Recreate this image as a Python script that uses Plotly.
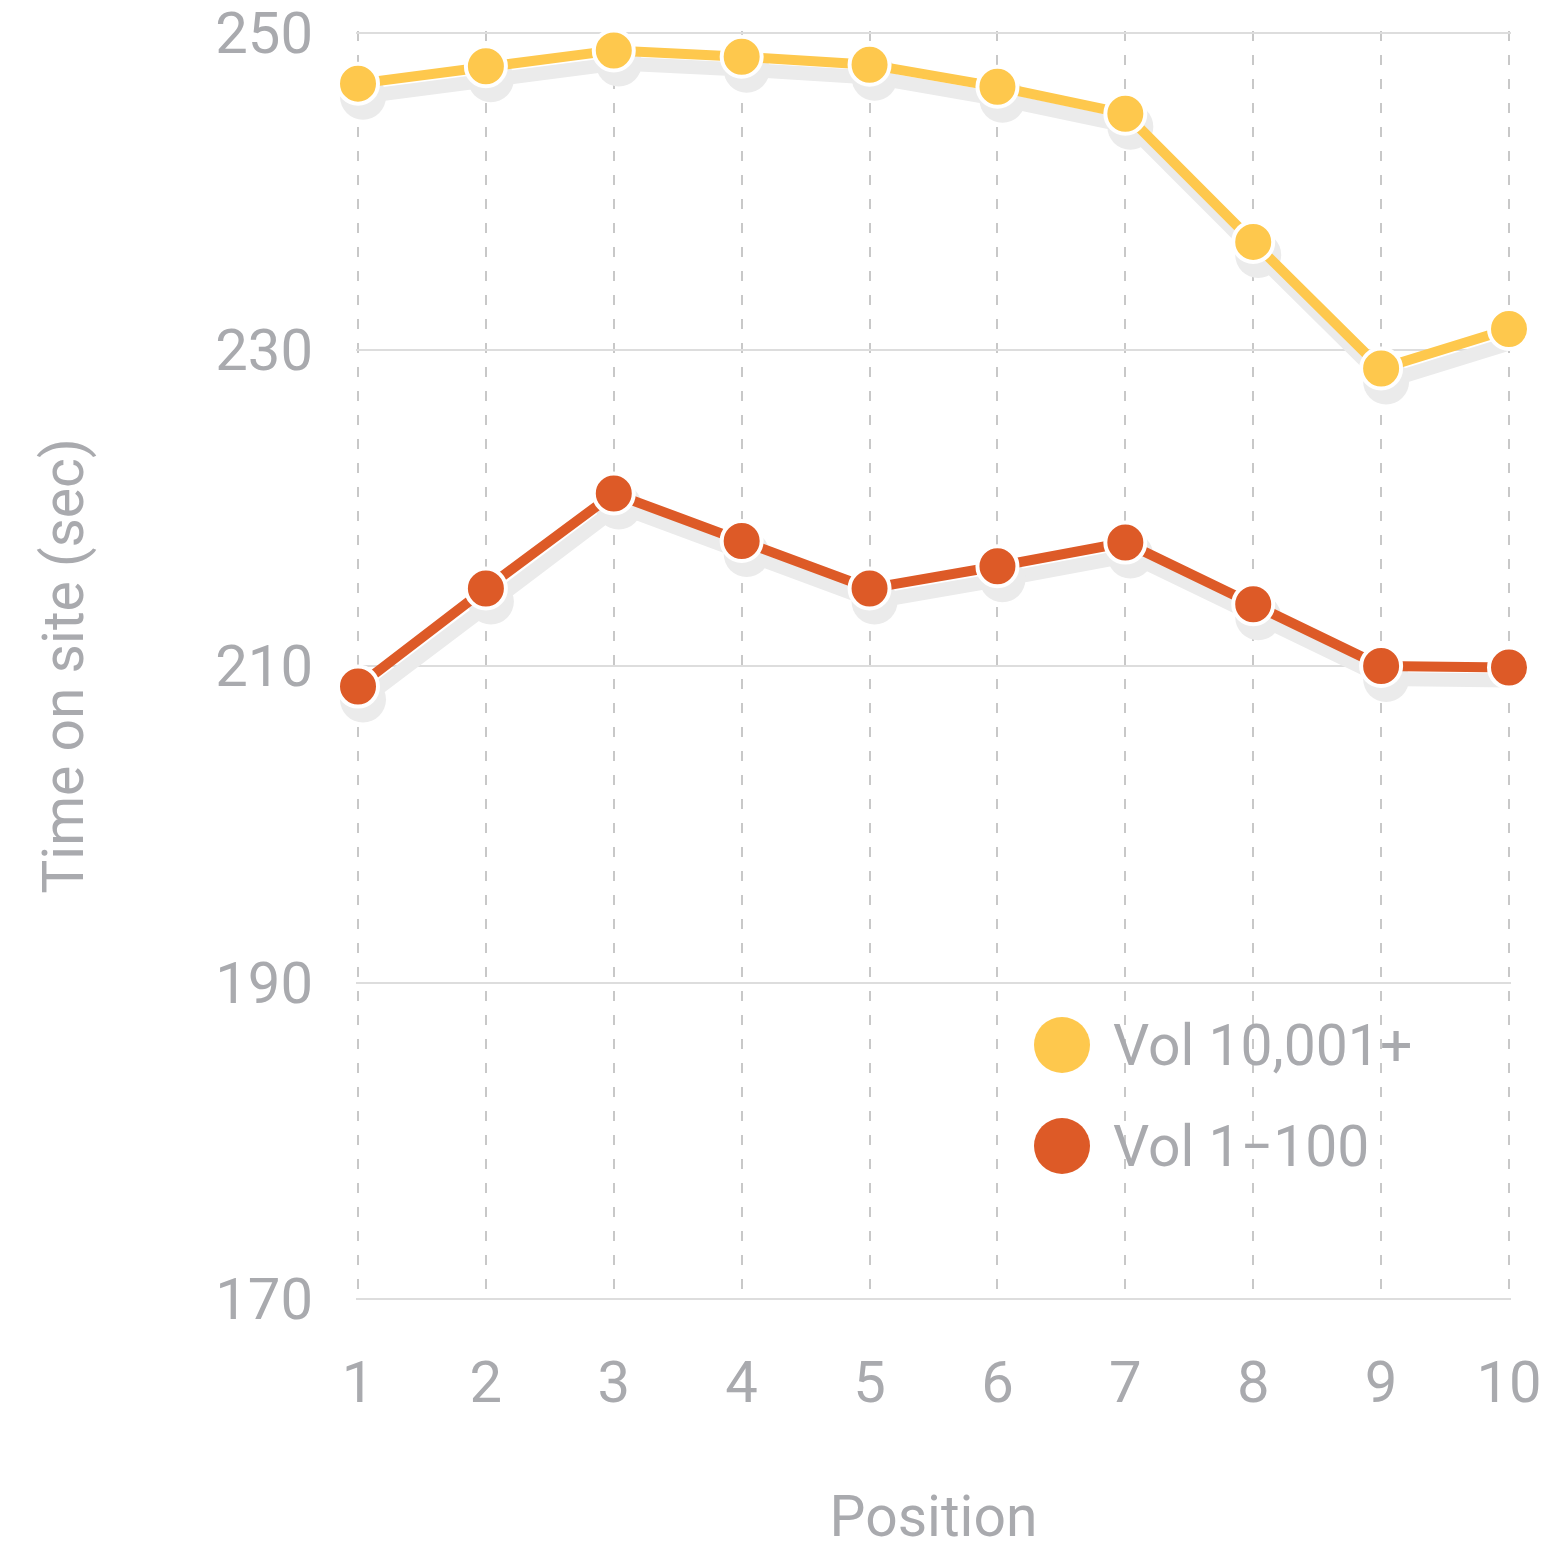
import plotly.graph_objects as go

positions = [1, 2, 3, 4, 5, 6, 7, 8, 9, 10]
vol_high = [246.8, 247.9, 248.9, 248.5, 248.0, 246.6, 244.9, 236.8, 228.8, 231.3]
vol_low = [208.7, 214.9, 220.9, 217.9, 214.9, 216.3, 217.8, 213.9, 210.0, 209.9]
series_names = ["Vol 10,001+", "Vol 1\u2212100"]
series_colors = ["#FEC84D", "#DD5A27"]
y_ticks = [170, 190, 210, 230, 250]

OFF = 8  # page body margin
W, H = 1548 - OFF, 1550 - OFF
# pixel positions of data extremes (figure coordinates)
X0PX, X1PX = 358 - OFF, 1509 - OFF   # x = 1 .. 10
Y0PX, Y1PX = 1299 - OFF, 33 - OFF    # y = 170 .. 250
PAD = 2                  # pixel padding so edge gridlines are drawn
ML, MR = X0PX - PAD, W - X1PX - PAD
MT, MB = Y1PX - PAD, H - Y0PX - PAD
PW, PH = W - ML - MR, H - MT - MB
ux = (10 - 1) / (X1PX - X0PX)
uy = (250 - 170) / (Y0PX - Y1PX)
XR = [1 - PAD * ux, 10 + PAD * ux]
YR = [170 - PAD * uy, 250 + PAD * uy]
# shadow offset in pixels
SDX, SDY = 5, 13
dxu = SDX * ux
dyu = SDY * uy

TXT = "#A9AAAE"
FONT = "Roboto"

fig = go.Figure()

# invisible trace to activate base axes
fig.add_trace(go.Scatter(x=positions, y=vol_high, mode="markers",
                         marker=dict(opacity=0), hoverinfo="skip",
                         showlegend=False, xaxis="x", yaxis="y"))

for vals in [vol_high, vol_low]:
    fig.add_trace(go.Scatter(
        x=positions, y=vals, mode="lines+markers",
        line=dict(color="#EBEBEB", width=14),
        marker=dict(size=46, color="#EBEBEB"),
        showlegend=False, hoverinfo="skip", cliponaxis=False,
        xaxis="x2", yaxis="y2"))

for vals, name, col in zip([vol_high, vol_low], series_names, series_colors):
    fig.add_trace(go.Scatter(
        x=positions, y=vals, mode="lines+markers", name=name,
        line=dict(color=col, width=10),
        marker=dict(size=40, color=col, line=dict(color="white", width=4)),
        showlegend=False, cliponaxis=False,
        xaxis="x3", yaxis="y3"))

hidden = dict(visible=False, showgrid=False, zeroline=False, automargin=False)

fig.update_layout(
    width=W, height=H,
    margin=dict(l=ML, r=MR, t=MT, b=MB, autoexpand=False),
    plot_bgcolor="white", paper_bgcolor="white",
    font=dict(family=FONT, color=TXT, size=58),
    xaxis=dict(range=XR, tickvals=positions, ticktext=[str(p) for p in positions],
               showgrid=True, gridcolor="#C8C8C8", griddash="10px,14px", gridwidth=2,
               zeroline=False, showline=False, ticks="", automargin=False,
               ticklabelstandoff=42, ticklabeloverflow="allow",
               tickfont=dict(size=58, color=TXT),
               title=dict(text="Position", font=dict(size=57, color=TXT), standoff=88)),
    yaxis=dict(range=YR, tickvals=y_ticks, showgrid=True, gridcolor="#DDDDDD",
               gridwidth=2, zeroline=False, showline=False, ticks="", automargin=False,
               ticklabelstandoff=42, ticklabeloverflow="allow",
               tickfont=dict(size=58, color=TXT),
               title=dict(text="Time on site (sec)", font=dict(size=57, color=TXT), standoff=113)),
    xaxis2=dict(range=[XR[0] - dxu, XR[1] - dxu], overlaying="x", **hidden),
    yaxis2=dict(range=[YR[0] + dyu, YR[1] + dyu], overlaying="y", **hidden),
    xaxis3=dict(range=XR, overlaying="x", **hidden),
    yaxis3=dict(range=YR, overlaying="y", **hidden),
    showlegend=False,
)

# custom legend
legend_y_px = [1045 - OFF, 1146 - OFF]
cx_px, r_px = 1062 - OFF, 28
shapes = []
annotations = []
for ly, name, col in zip(legend_y_px, series_names, series_colors):
    shapes.append(dict(type="circle", xref="paper", yref="paper",
                       x0=(cx_px - r_px - ML) / PW, x1=(cx_px + r_px - ML) / PW,
                       y0=(H - MB - ly - r_px) / PH, y1=(H - MB - ly + r_px) / PH,
                       fillcolor=col, line=dict(width=0)))
    annotations.append(dict(text=name, xref="paper", yref="paper",
                            x=(1103 - ML) / PW, y=(H - MB - ly) / PH,
                            xanchor="left", yanchor="middle", showarrow=False,
                            font=dict(size=57, color=TXT, family=FONT)))
fig.update_layout(shapes=shapes, annotations=annotations)

fig.write_html("out.html")
